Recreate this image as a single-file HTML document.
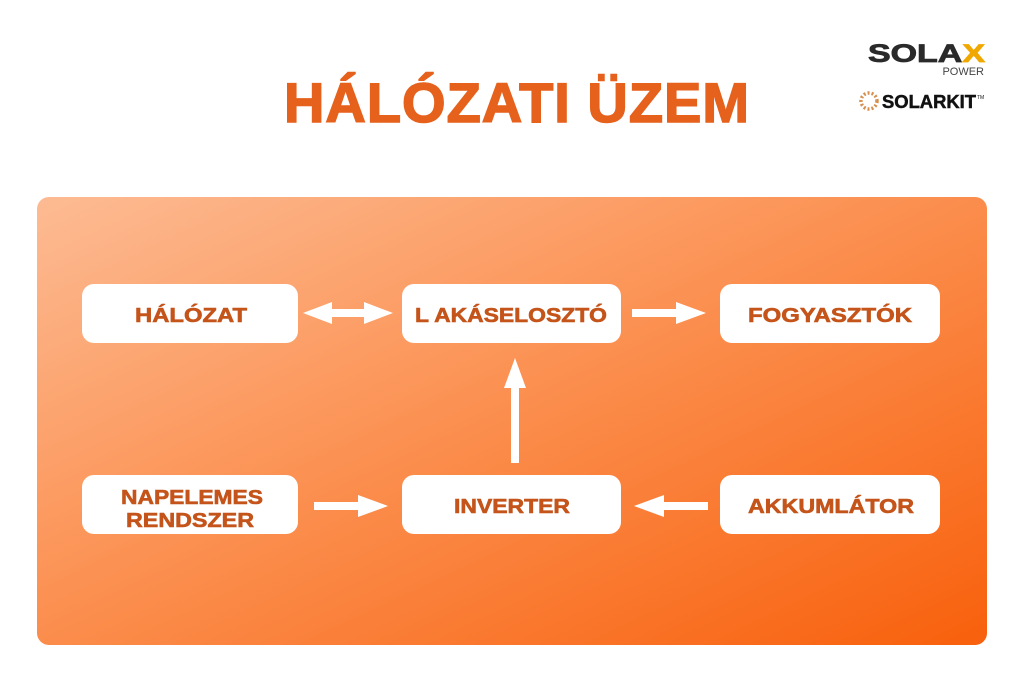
<!DOCTYPE html>
<html><head><meta charset="utf-8"><style>
body{margin:0;width:1024px;height:683px;background:#fff;overflow:hidden;font-family:"Liberation Sans",sans-serif}
</style></head><body>
<svg width="1024" height="683" viewBox="0 0 1024 683" xmlns="http://www.w3.org/2000/svg">
<defs>
<linearGradient id="g" x1="0" y1="0" x2="1" y2="1">
<stop offset="0" stop-color="#fdbb93"/>
<stop offset="0.5" stop-color="#fb8d4c"/>
<stop offset="1" stop-color="#f8600c"/>
</linearGradient>
</defs>
<text x="517" y="122" text-anchor="middle" font-family="Liberation Sans" font-weight="bold" font-size="56" fill="#e5611c" stroke="#e5611c" stroke-width="1.5" letter-spacing="1" textLength="466" lengthAdjust="spacingAndGlyphs">HÁLÓZATI ÜZEM</text>
<!-- logos -->
<text x="868" y="62" font-family="Liberation Sans" font-weight="bold" font-size="25" fill="#2a2a2a" stroke="#2a2a2a" stroke-width="0.8" textLength="117" lengthAdjust="spacingAndGlyphs">SOLA<tspan fill="#f0a800" stroke="#f0a800">X</tspan></text>
<text x="984" y="75" text-anchor="end" font-family="Liberation Sans" font-size="11" fill="#444">POWER</text>
<circle cx="869" cy="101" r="8" fill="none" stroke="#d59050" stroke-width="3.5" stroke-dasharray="2 2"/>
<text x="882" y="108" font-family="Liberation Sans" font-weight="bold" font-size="18" fill="#111" stroke="#111" stroke-width="0.5" textLength="94" lengthAdjust="spacingAndGlyphs">SOLARKIT</text>
<text x="977" y="99" font-family="Liberation Sans" font-size="5" fill="#111">TM</text>
<rect x="37" y="197" width="950" height="448" rx="12" fill="url(#g)"/>
<g fill="#fff">
<rect x="82" y="284" width="216" height="59" rx="12"/>
<rect x="402" y="284" width="219" height="59" rx="12"/>
<rect x="720" y="284" width="220" height="59" rx="12"/>
<rect x="82" y="475" width="216" height="59" rx="12"/>
<rect x="402" y="475" width="219" height="59" rx="12"/>
<rect x="720" y="475" width="220" height="59" rx="12"/>
<polygon points="303,313 332,302 332,309 364,309 364,302 393,313 364,324 364,317 332,317 332,324"/>
<polygon points="632,309 676,309 676,302 706,313 676,324 676,317 632,317"/>
<polygon points="511,463 511,388 504,388 515,358 526,388 519,388 519,463"/>
<polygon points="314,502 358,502 358,495 388,506 358,517 358,510 314,510"/>
<polygon points="708,502 664,502 664,495 634,506 664,517 664,510 708,510"/>
</g>
<g font-family="Liberation Sans" font-weight="bold" font-size="20" fill="#c4541a" stroke="#c4541a" stroke-width="0.6" text-anchor="middle">
<text x="191" y="322" textLength="112" lengthAdjust="spacingAndGlyphs">HÁLÓZAT</text>
<text x="511" y="322" textLength="192" lengthAdjust="spacingAndGlyphs">L AKÁSELOSZTÓ</text>
<text x="830" y="322" textLength="164" lengthAdjust="spacingAndGlyphs">FOGYASZTÓK</text>
<text x="192" y="504" textLength="142" lengthAdjust="spacingAndGlyphs">NAPELEMES</text>
<text x="190" y="527" textLength="128" lengthAdjust="spacingAndGlyphs">RENDSZER</text>
<text x="512" y="513" textLength="116" lengthAdjust="spacingAndGlyphs">INVERTER</text>
<text x="831" y="513" textLength="166" lengthAdjust="spacingAndGlyphs">AKKUMLÁTOR</text>
</g>
</svg>
</body></html>
